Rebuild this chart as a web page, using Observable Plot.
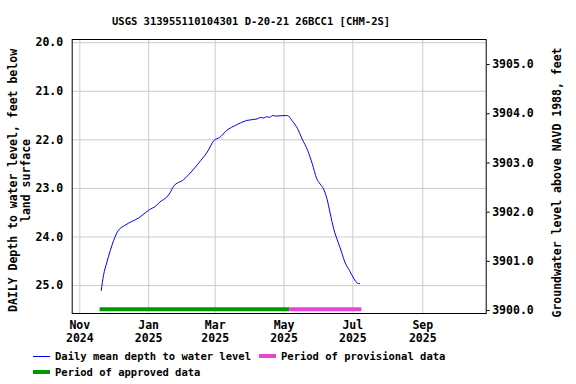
<!DOCTYPE html>
<html>
<head>
<meta charset="utf-8">
<script src="https://cdn.jsdelivr.net/npm/d3@7"></script>
<script src="https://cdn.jsdelivr.net/npm/@observablehq/plot@0.6"></script>
<style>
  body { margin: 0; background: #fff; width: 576px; height: 384px; position: relative; overflow: hidden;
         font-family: "DejaVu Sans Mono", monospace; font-weight: bold; font-size: 10.5px; color: #000; }
  #title { position: absolute; left: 112px; top: 14px; line-height: 14px; white-space: pre; }
  #chart { position: absolute; left: 0; top: 30px; }
  #chart svg { overflow: visible; }
  .lg { position: absolute; white-space: pre; line-height: 14px; }
  .sw { position: absolute; width: 17px; }
</style>
</head>
<body>
<div id="title">USGS 313955110104301 D-20-21 26BCC1 [CHM-2S]</div>
<div id="chart"></div>
<div class="sw" style="left:33px; top:355.5px; height:1px; background:#0000ff"></div>
<div class="lg" style="left:55px; top:349px">Daily mean depth to water level</div>
<div class="sw" style="left:259px; top:354px; height:4px; background:#e845d8"></div>
<div class="lg" style="left:281px; top:349px">Period of provisional data</div>
<div class="sw" style="left:33px; top:370px; height:4px; background:#009a00"></div>
<div class="lg" style="left:55px; top:365px">Period of approved data</div>
<script>
// ---- data ----
const dates = [
  "2024-11-20","2024-11-22","2024-11-25","2024-11-28","2024-12-01","2024-12-05","2024-12-11",
  "2024-12-17","2024-12-23","2024-12-27","2025-01-01","2025-01-08","2025-01-11","2025-01-17",
  "2025-01-20","2025-01-23","2025-02-01","2025-02-10","2025-02-16","2025-02-22","2025-02-28",
  "2025-03-05","2025-03-11","2025-03-20","2025-03-29","2025-04-07","2025-04-10","2025-04-13",
  "2025-04-16","2025-04-18","2025-04-21","2025-04-24","2025-05-01","2025-05-04","2025-05-08",
  "2025-05-13","2025-05-17","2025-05-22","2025-05-26","2025-05-30","2025-06-02","2025-06-05",
  "2025-06-08","2025-06-11","2025-06-14","2025-06-18","2025-06-21","2025-06-24","2025-06-28",
  "2025-07-02","2025-07-05","2025-07-07"
];
const depths = [
  25.10,24.79,24.52,24.28,24.07,23.87,23.76,
  23.68,23.61,23.54,23.45,23.35,23.28,23.18,
  23.09,22.96,22.82,22.60,22.43,22.25,22.01,
  21.95,21.81,21.69,21.60,21.57,21.54,21.55,
  21.52,21.54,21.50,21.51,21.50,21.50,21.60,
  21.77,21.98,22.22,22.49,22.80,22.91,23.01,
  23.21,23.52,23.83,24.11,24.31,24.52,24.69,
  24.86,24.95,24.96
];
const periodNames = ["approved", "provisional"];
const periodStarts = ["2024-11-19", "2025-05-06"];
const periodEnds = ["2025-05-06", "2025-07-09"];
const periodColors = ["#009a00", "#e845d8"];

const depthTicks = [20, 21, 22, 23, 24, 25];
const elevTicks = [3900, 3901, 3902, 3903, 3904, 3905];
const monthTicks = ["2024-11-01","2025-01-01","2025-03-01","2025-05-01","2025-07-01","2025-09-01"];

// scale extents
const depthDomain = [19.934, 25.575];
const elevAtTop = 3905.51, elevAtBottom = 3899.94;
const xDomain = [new Date("2024-10-25T06:00Z"), new Date("2025-10-27T05:00Z")];

// ---- derived ----
const series = dates.map((d, i) => ({date: new Date(d), depth: depths[i]}));
const periods = periodNames.map((n, i) => ({name: n, start: new Date(periodStarts[i]), end: new Date(periodEnds[i]), color: periodColors[i]}));
const k = (depthDomain[1] - depthDomain[0]) / (elevAtTop - elevAtBottom);
const elevToDepth = e => depthDomain[0] + (elevAtTop - e) * k;
const depthToElev = d => elevAtTop - (d - depthDomain[0]) / k;
const fmtM = d3.utcFormat("%b"), fmtY = d3.utcFormat("%Y");

const chart = Plot.plot({
  width: 576,
  height: 320,
  marginLeft: 71.7,
  marginRight: 90.3,
  marginTop: 9,
  marginBottom: 37,
  style: {fontFamily: "DejaVu Sans Mono, monospace", fontWeight: "bold", fontSize: "11.5px", background: "white", color: "black", overflow: "visible"},
  x: {type: "utc", domain: xDomain},
  y: {domain: depthDomain, reverse: true},
  marks: [
    Plot.gridX(monthTicks.map(d => new Date(d)), {stroke: "#cccccc", strokeOpacity: 1}),
    Plot.gridY(depthTicks, {stroke: "#cccccc", strokeOpacity: 1}),
    Plot.axisX(monthTicks.map(d => new Date(d)), {tickSize: 0, tickPadding: 6, tickFormat: d => fmtM(d) + "\n" + fmtY(d), lineHeight: 1.13, label: null}),
    Plot.axisY(depthTicks, {anchor: "left", tickSize: 0, tickPadding: 9, tickFormat: d => d.toFixed(1), label: null}),
    Plot.axisY(elevTicks.map(elevToDepth), {anchor: "right", tickSize: 3, tickPadding: 3, tickFormat: d => depthToElev(d).toFixed(1), label: null}),
    Plot.ruleY(periods, {x1: "start", x2: "end", y: () => depthDomain[1], dy: -4.3, stroke: "color", strokeWidth: 4}),
    Plot.line(series, {x: "date", y: "depth", stroke: "#0000ff", strokeWidth: 1, curve: "monotone-x"}),
    Plot.frame({stroke: "black"}),
    Plot.text(["DAILY Depth to water level, feet below\nland surface"], {frameAnchor: "left", text: d => d, textAnchor: "middle", lineAnchor: "middle", rotate: -90, dx: -53, dy: 4, lineHeight: 1.13}),
    Plot.text(["Groundwater level above NAVD 1988, feet"], {frameAnchor: "right", text: d => d, textAnchor: "middle", lineAnchor: "middle", rotate: -90, dx: 71.5, dy: 6})
  ]
});
document.getElementById("chart").appendChild(chart);
</script>
</body>
</html>
